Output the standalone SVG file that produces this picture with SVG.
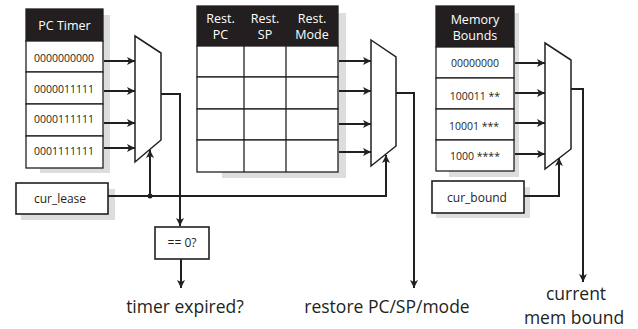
<svg xmlns="http://www.w3.org/2000/svg" width="638" height="329" viewBox="0 0 638 329">
<style>
text{font-family:"Open Sans","Liberation Sans",sans-serif;fill:#231f20;text-anchor:middle}
.shadow{fill:#dcdddd}
.cell{fill:#fff;stroke:#231f20;stroke-width:1.3}
.hdr{fill:#231f20;stroke:#231f20;stroke-width:1.3}
.ht{fill:#fff;font-size:12.5px}
.v{font-size:10.5px}
.lb{font-size:12px}
.mux{fill:#fff;stroke:#231f20;stroke-width:1.5}
.w{fill:none;stroke:#231f20;stroke-width:2}
.a{fill:none;stroke:#231f20;stroke-width:2;marker-end:url(#ah)}
.big{font-size:17.5px}
</style>
<defs>
<marker id="ah" markerWidth="10" markerHeight="10" refX="8" refY="4" orient="auto" markerUnits="userSpaceOnUse">
<path d="M0,0 L8,4 L0,8 L2,4 z" fill="#231f20"/>
</marker>
</defs>

<g id="pc-timer">
<rect class="shadow" x="40" y="15" width="70" height="158"/>
<rect class="hdr" x="26" y="9" width="77" height="32"/>
<text class="ht" x="64.5" y="29.5">PC Timer</text>
<rect class="cell" x="26" y="41" width="77" height="31"/>
<rect class="cell" x="26" y="72" width="77" height="32"/>
<rect class="cell" x="26" y="104" width="77" height="32"/>
<rect class="cell" x="26" y="136" width="77" height="32"/>
<text class="v" x="64" y="62">0000000000</text>
<text class="v" x="64" y="93">0000011111</text>
<text class="v" x="64" y="123">0000111111</text>
<text class="v" x="64" y="155">0001111111</text>
</g>

<g id="restore-table">
<rect class="shadow" x="222" y="13" width="124" height="165"/>
<rect class="hdr" x="197" y="6" width="141" height="40"/>
<text class="ht" x="220.5" y="23">Rest.</text>
<text class="ht" x="220.5" y="39">PC</text>
<text class="ht" x="265" y="23">Rest.</text>
<text class="ht" x="265" y="39">SP</text>
<text class="ht" x="312" y="23">Rest.</text>
<text class="ht" x="312" y="39">Mode</text>
<rect class="cell" x="197" y="46" width="141" height="31"/>
<rect class="cell" x="197" y="77" width="141" height="32"/>
<rect class="cell" x="197" y="109" width="141" height="31"/>
<rect class="cell" x="197" y="140" width="141" height="32"/>
<line class="cell" x1="244" y1="46" x2="244" y2="172"/>
<line class="cell" x1="286" y1="46" x2="286" y2="172"/>
</g>

<g id="memory-bounds">
<rect class="shadow" x="449" y="13" width="70" height="164"/>
<rect class="hdr" x="436" y="6" width="78" height="41"/>
<text class="ht" x="475" y="24">Memory</text>
<text class="ht" x="475" y="39.5">Bounds</text>
<rect class="cell" x="436" y="47" width="78" height="31"/>
<rect class="cell" x="436" y="78" width="78" height="31"/>
<rect class="cell" x="436" y="109" width="78" height="31"/>
<rect class="cell" x="436" y="140" width="78" height="31"/>
<text class="v" x="475" y="67">00000000</text>
<text class="v" x="475" y="100">100011 **</text>
<text class="v" x="474" y="130">10001 ***</text>
<text class="v" x="475" y="160">1000 ****</text>
</g>

<g id="mux1"><polygon class="mux" points="135,36 161,53 161,140 135,162"/></g>
<g id="mux2"><polygon class="mux" points="371,40 396,57 396,146 371,166"/></g>
<g id="mux3"><polygon class="mux" points="545,43 571,60 571,149 545,169"/></g>

<g id="cur-lease">
<rect class="shadow" x="21" y="189" width="94" height="31"/>
<rect class="cell" x="16" y="183" width="92" height="31" style="stroke-width:1.6"/>
<text class="lb" x="60" y="203">cur_lease</text>
</g>

<g id="cur-bound">
<rect class="shadow" x="436" y="187" width="94" height="31"/>
<rect class="cell" x="432" y="181" width="92" height="32" style="stroke-width:1.6"/>
<text class="lb" x="477" y="202">cur_bound</text>
</g>

<g id="zero-check">
<rect class="cell" x="155" y="227" width="54" height="32" style="stroke-width:1.6"/>
<text class="lb" x="182" y="247">== 0?</text>
</g>

<g id="connectors">
<line class="a" x1="104" y1="61" x2="135" y2="61"/>
<line class="a" x1="104" y1="91" x2="135" y2="91"/>
<line class="a" x1="104" y1="123" x2="135" y2="123"/>
<line class="a" x1="104" y1="148" x2="135" y2="148"/>
<line class="a" x1="339" y1="61" x2="371" y2="61"/>
<line class="a" x1="339" y1="91" x2="371" y2="91"/>
<line class="a" x1="339" y1="124" x2="371" y2="124"/>
<line class="a" x1="339" y1="152" x2="371" y2="152"/>
<line class="a" x1="515" y1="63" x2="545" y2="63"/>
<line class="a" x1="515" y1="93" x2="545" y2="93"/>
<line class="a" x1="515" y1="123" x2="545" y2="123"/>
<line class="a" x1="515" y1="154" x2="545" y2="154"/>
<polyline class="w" points="108,196 386,196 386,165"/>
<line class="a" x1="386" y1="166" x2="386" y2="155"/>
<line class="a" x1="150" y1="196" x2="150" y2="150"/>
<circle cx="150" cy="196" r="2.5" fill="#231f20"/>
<polyline class="a" points="161,94 180,94 180,226"/>
<line class="a" x1="181" y1="259" x2="181" y2="288"/>
<polyline class="a" points="396,93 414,93 414,288"/>
<polyline class="a" points="524,196 559,196 559,158"/>
<polyline class="a" points="571,89 583,89 583,282"/>
</g>

<text class="big" x="185" y="313">timer expired?</text>
<text class="big" x="387" y="313">restore PC/SP/mode</text>
<text class="big" x="576" y="300">current</text>
<text class="big" x="574" y="324">mem bound</text>
</svg>
